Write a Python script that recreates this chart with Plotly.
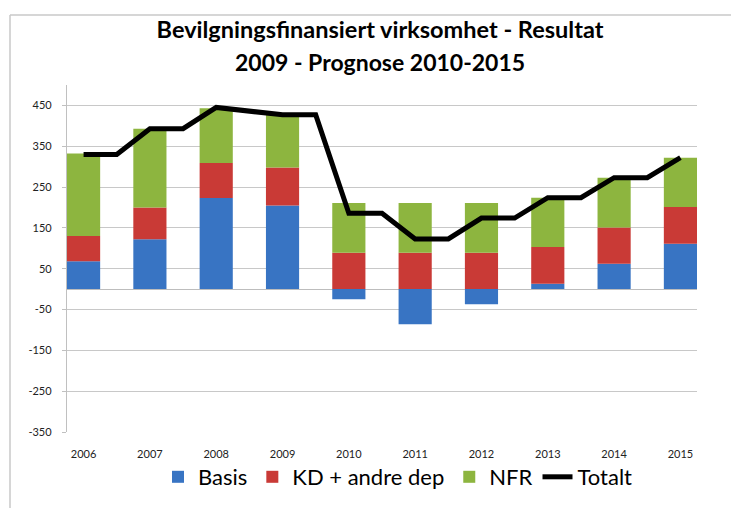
import plotly.graph_objects as go

years = ["2006", "2007", "2008", "2009", "2010", "2011", "2012", "2013", "2014", "2015"]
basis = [68, 122, 223, 205, -25, -86, -37, 13, 62, 111]
kd_andre_dep = [62, 78, 86, 93, 89, 89, 89, 90, 89, 90]
nfr = [202, 193, 134, 129, 122, 122, 122, 121, 122, 121]
# Totalt line: two points per year (half-category steps)
totalt = [330, 330, 393, 393, 445, 435, 427, 427, 186, 186,
          123, 123, 174, 174, 224, 224, 273, 273, 322]
y_ticks = [-350, -250, -150, -50, 50, 150, 250, 350, 450]

FONT = "Lato"
bar_x = [2 * i for i in range(len(years))]
line_x = list(range(len(totalt)))

fig = go.Figure()
fig.add_trace(go.Bar(name="Basis", x=bar_x, y=basis, width=1,
                     marker=dict(color="#3874c3", line=dict(width=0))))
fig.add_trace(go.Bar(name="KD + andre dep", x=bar_x, y=kd_andre_dep, width=1,
                     marker=dict(color="#c93a36", line=dict(width=0))))
fig.add_trace(go.Bar(name="NFR", x=bar_x, y=nfr, width=1,
                     marker=dict(color="#8db53f", line=dict(width=0))))
fig.add_trace(go.Scatter(name="Totalt", x=line_x, y=totalt, mode="lines",
                         line=dict(color="black", width=5)))

OFF = 8  # page body margin
W, H = 739 - OFF, 508 - OFF
L, T = 67 - OFF, 85 - OFF
R = W - (697 - OFF)
B = H - (432 - OFF)
pw, ph = W - L - R, H - T - B

def px_x(px):
    return (px - OFF - L) / pw

def px_y(py):
    return (H - B - (py - OFF)) / ph

fig.update_layout(
    width=W, height=H,
    margin=dict(l=L, r=R, t=T, b=B, autoexpand=False),
    paper_bgcolor="white", plot_bgcolor="white",
    barmode="relative",
    font=dict(family=FONT, color="#000"),
    title=dict(text="<b>Bevilgningsfinansiert virksomhet - Resultat</b>",
               x=px_x(380), xref="paper", xanchor="center",
               y=1 - (30 - OFF) / H, yref="container", yanchor="middle",
               font=dict(family=FONT, size=23.5, color="#000")),
    annotations=[dict(text="<b>2009 - Prognose 2010-2015</b>", showarrow=False,
                      x=px_x(380), xref="paper", xanchor="center",
                      y=px_y(62), yref="paper", yanchor="middle",
                      font=dict(family=FONT, size=23, color="#000"))],
    legend=dict(orientation="h", x=px_x(398), xanchor="center",
                y=px_y(477), yanchor="middle", traceorder="normal",
                font=dict(family=FONT, size=22, color="#000"),
                bgcolor="rgba(0,0,0,0)"),
    showlegend=True,
    xaxis=dict(range=[-0.5, len(totalt) - 0.5], tickvals=bar_x, ticktext=years,
               showgrid=False, zeroline=False, showline=False, ticks="",
               ticklabelstandoff=14,
               tickfont=dict(family=FONT, size=11, color="#222")),
    yaxis=dict(range=[-350, 500], tickvals=y_ticks,
               ticktext=[str(v) for v in y_ticks],
               showgrid=True, gridcolor="#c8c8c8", gridwidth=1.3,
               zeroline=True, zerolinecolor="#bdbdbd", zerolinewidth=1.3,
               showline=True, linecolor="#c0c0c0", linewidth=1.3,
               ticks="outside", ticklen=4, tickcolor="#c0c0c0",
               ticklabelstandoff=8,
               tickfont=dict(family=FONT, size=11, color="#222")),
    shapes=[
        dict(type="line", xref="paper", yref="paper",
             x0=px_x(10), x1=px_x(10), y0=px_y(15), y1=px_y(530),
             line=dict(color="#c8c8c8", width=1.5)),
        dict(type="line", xref="paper", yref="paper",
             x0=px_x(10), x1=px_x(760), y0=px_y(15), y1=px_y(15),
             line=dict(color="#c8c8c8", width=1.5)),
    ],
)

fig.write_html("out.html")
